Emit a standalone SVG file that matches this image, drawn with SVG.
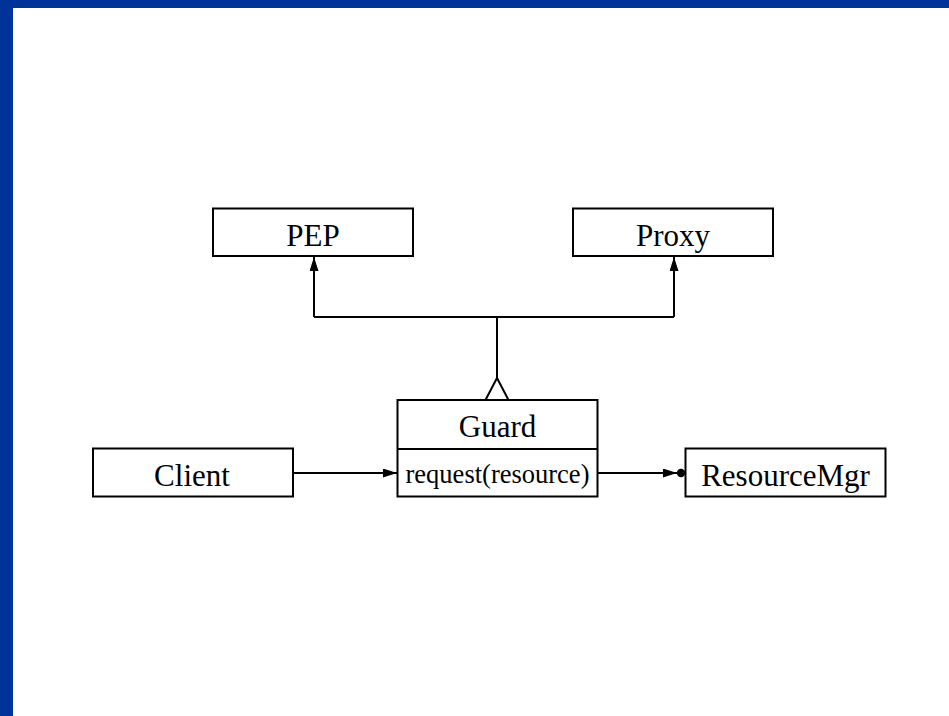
<svg xmlns="http://www.w3.org/2000/svg" width="949" height="716" viewBox="0 0 949 716">
  <style>
    .box { fill: #ffffff; stroke: #000000; stroke-width: 2; }
    .lbl { font-family: "Liberation Serif", "Times New Roman", serif; font-size: 31px; fill: #000000; text-anchor: middle; }
    .op { font-family: "Liberation Serif", "Times New Roman", serif; font-size: 26.5px; fill: #000000; text-anchor: middle; }
    .edge { fill: none; stroke: #000000; stroke-width: 2; }
  </style>
  <defs>
    <marker id="arrow" viewBox="0 0 14 9" refX="14" refY="4.5" markerWidth="14" markerHeight="9" markerUnits="userSpaceOnUse" orient="auto">
      <path d="M0,0 L14,4.5 L0,9 Z" fill="#000000"/>
    </marker>
  </defs>

  <!-- frame bands -->
  <rect x="0" y="0" width="949" height="716" fill="#ffffff"/>
  <rect x="0" y="0" width="949" height="8" fill="#003399"/>
  <rect x="0" y="0" width="13" height="716" fill="#003399"/>

  <g id="connectors">
    <!-- generalization: Guard to PEP / Proxy -->
    <path class="edge" d="M497,378 L497,317 M314,317 L674,317"/>
    <path class="edge" d="M314,317 L314,257" marker-end="url(#arrow)"/>
    <path class="edge" d="M674,317 L674,257" marker-end="url(#arrow)"/>
    <path d="M485.5,400 L497,378 L508.5,400" fill="#ffffff" stroke="#000000" stroke-width="2"/>
    <!-- Client to Guard -->
    <path class="edge" d="M294,473 L397,473" marker-end="url(#arrow)"/>
    <!-- Guard to ResourceMgr -->
    <path class="edge" d="M598,473 L677,473" marker-end="url(#arrow)"/>
    <circle cx="681" cy="473" r="4.2" fill="#000000"/>
  </g>

  <g id="pep">
    <rect class="box" x="213" y="208.5" width="200" height="47.5"/>
    <text class="lbl" x="313" y="245.5">PEP</text>
  </g>

  <g id="proxy">
    <rect class="box" x="573" y="208.5" width="200" height="47.5"/>
    <text class="lbl" x="673" y="245.5">Proxy</text>
  </g>

  <g id="guard">
    <rect class="box" x="397.5" y="400" width="200" height="96.5"/>
    <line x1="397.5" y1="449" x2="597.5" y2="449" stroke="#000000" stroke-width="2"/>
    <text class="lbl" x="497.5" y="436.5">Guard</text>
    <text class="op" x="497.5" y="482.5">request(resource)</text>
  </g>

  <g id="client">
    <rect class="box" x="93" y="448.5" width="200" height="48"/>
    <text class="lbl" x="192" y="485.5">Client</text>
  </g>

  <g id="resourcemgr">
    <rect class="box" x="685.5" y="448.5" width="200" height="48"/>
    <text class="lbl" x="785.5" y="485.5">ResourceMgr</text>
  </g>
</svg>
